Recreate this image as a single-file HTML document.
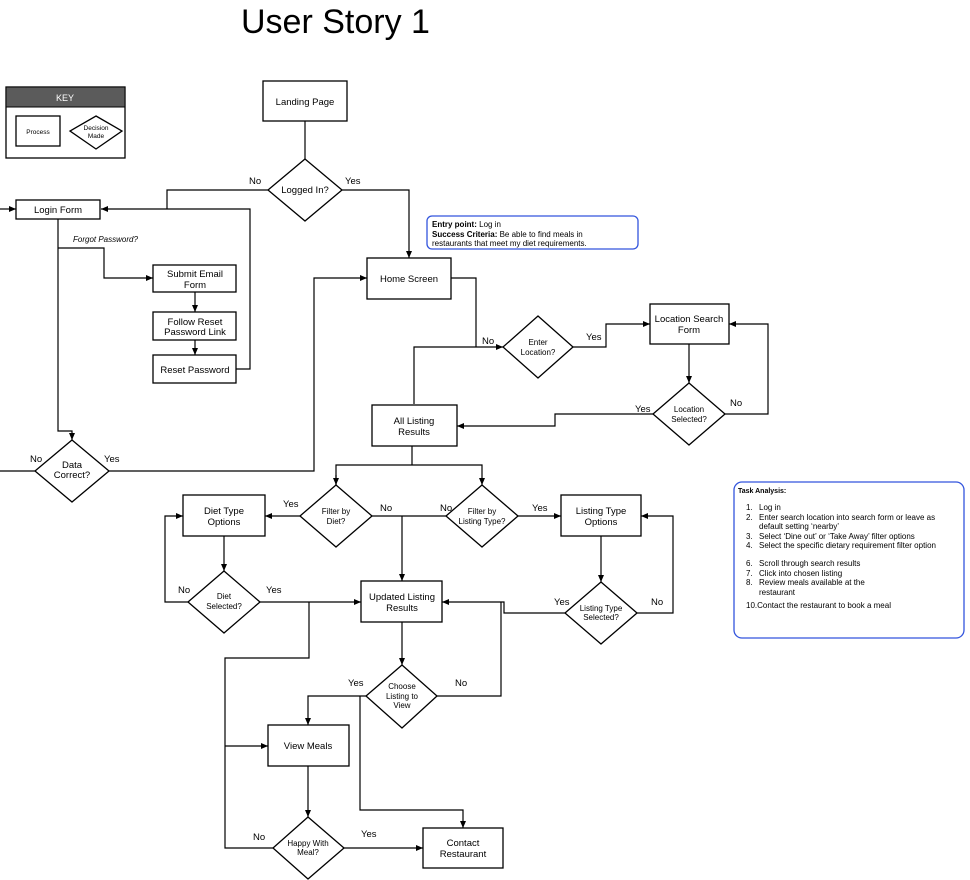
<!DOCTYPE html>
<html><head><meta charset="utf-8"><style>
body{margin:0;background:#fff;width:970px;height:880px;overflow:hidden}
svg{display:block;font-family:"Liberation Sans",sans-serif}
.b{fill:#fff;stroke:#000;stroke-width:1.3}
.l{fill:none;stroke:#000;stroke-width:1.2}
text{font-size:9.5px;fill:#000}
.s{font-size:8px}
</style></head><body>
<svg width="970" height="880" viewBox="0 0 970 880">
<defs><marker id="a" markerWidth="8" markerHeight="8" refX="7" refY="3" orient="auto" markerUnits="userSpaceOnUse"><path d="M0,0 L7,3 L0,6z" fill="#000"/></marker></defs>
<text x="241" y="33" style="font-size:34px">User Story 1</text>

<!-- KEY -->
<rect x="6" y="87" width="119" height="71" class="b"/>
<rect x="6" y="87" width="119" height="20" fill="#5b5b5b" stroke="#000"/>
<text x="65" y="101" text-anchor="middle" fill="#fff" style="fill:#fff;font-size:9px">KEY</text>
<rect x="16" y="116" width="44" height="30" class="b"/>
<text x="38" y="134" class="s" text-anchor="middle" style="font-size:6.5px">Process</text>
<path d="M96,116 L122,131 L96,149 L70,131z" class="b"/>
<text x="96" y="130" text-anchor="middle" style="font-size:6.5px">Decision</text>
<text x="96" y="138" text-anchor="middle" style="font-size:6.5px">Made</text>

<!-- connectors -->
<g class="l">
<path d="M305,121 V159"/>
<path d="M268,190 H167 V209"/>
<path d="M236,369 H250 V209 H101" marker-end="url(#a)"/>
<path d="M0,209 H16" marker-end="url(#a)"/>
<path d="M342,190 H409 V258" marker-end="url(#a)"/>
<path d="M58,219 V431 H72 V440" marker-end="url(#a)"/>
<path d="M58,248 H104 V278 H153" marker-end="url(#a)"/>
<path d="M195,292 V312" marker-end="url(#a)"/>
<path d="M195,340 V355" marker-end="url(#a)"/>
<path d="M0,471 H35"/>
<path d="M109,471 H314 V278 H367" marker-end="url(#a)"/>
<path d="M451,278 H476 V347"/>
<path d="M414,404 V347 H503" marker-end="url(#a)"/>
<path d="M573,347 H606 V324 H650" marker-end="url(#a)"/>
<path d="M689,344 V383" marker-end="url(#a)"/>
<path d="M725,414 H768 V324 H729" marker-end="url(#a)"/>
<path d="M653,414 H555 V426 H457" marker-end="url(#a)"/>
<path d="M412,446 V465"/>
<path d="M336,485 V465 H482 V485" marker-end="url(#a)"/>
<path d="M336,475 V485" marker-end="url(#a)"/>
<path d="M300,516 H265" marker-end="url(#a)"/>
<path d="M372,516 H446"/>
<path d="M402,516 V581" marker-end="url(#a)"/>
<path d="M518,516 H561" marker-end="url(#a)"/>
<path d="M601,536 V582" marker-end="url(#a)"/>
<path d="M637,613 H673 V516 H641" marker-end="url(#a)"/>
<path d="M565,613 H504 V602 H442" marker-end="url(#a)"/>
<path d="M437,696 H501 V602"/>
<path d="M224,536 V571" marker-end="url(#a)"/>
<path d="M188,602 H165 V516 H183" marker-end="url(#a)"/>
<path d="M260,602 H361" marker-end="url(#a)"/>
<path d="M309,602 V658 H225 V848 H273"/>
<path d="M225,746 H268" marker-end="url(#a)"/>
<path d="M402,622 V665" marker-end="url(#a)"/>
<path d="M366,696 H308 V725" marker-end="url(#a)"/>
<path d="M360,696 V810 H463 V828" marker-end="url(#a)"/>
<path d="M308,766 V817" marker-end="url(#a)"/>
<path d="M344,848 H423" marker-end="url(#a)"/>
</g>

<!-- process boxes -->
<g class="b">
<rect x="263" y="81" width="84" height="40"/>
<rect x="16" y="200" width="84" height="19"/>
<rect x="153" y="265" width="83" height="27"/>
<rect x="153" y="312" width="83" height="28"/>
<rect x="153" y="355" width="83" height="28"/>
<rect x="367" y="258" width="84" height="41"/>
<rect x="650" y="304" width="79" height="40"/>
<rect x="372" y="405" width="85" height="41"/>
<rect x="183" y="495" width="82" height="41"/>
<rect x="561" y="495" width="80" height="41"/>
<rect x="361" y="581" width="81" height="41"/>
<rect x="268" y="725" width="81" height="41"/>
<rect x="423" y="828" width="80" height="40"/>
</g>
<!-- diamonds -->
<g class="b">
<path d="M305,159 L342,190 L305,221 L268,190z"/>
<path d="M72,440 L109,471 L72,502 L35,471z"/>
<path d="M538,316 L573,347 L538,378 L503,347z"/>
<path d="M689,383 L725,414 L689,445 L653,414z"/>
<path d="M336,485 L372,516 L336,547 L300,516z"/>
<path d="M482,485 L518,516 L482,547 L446,516z"/>
<path d="M224,571 L260,602 L224,633 L188,602z"/>
<path d="M601,582 L637,613 L601,644 L565,613z"/>
<path d="M402,665 L437,696 L402,728 L366,696z"/>
<path d="M308,817 L344,848 L308,879 L273,848z"/>
</g>

<g text-anchor="middle">
<text x="305" y="105">Landing Page</text>
<text x="58" y="213">Login Form</text>
<text x="195" y="277">Submit Email</text><text x="195" y="288">Form</text>
<text x="195" y="325">Follow Reset</text><text x="195" y="335">Password Link</text>
<text x="195" y="373">Reset Password</text>
<text x="409" y="282">Home Screen</text>
<text x="689" y="322">Location Search</text><text x="689" y="333">Form</text>
<text x="414" y="424">All Listing</text><text x="414" y="435">Results</text>
<text x="224" y="514">Diet Type</text><text x="224" y="525">Options</text>
<text x="601" y="514">Listing Type</text><text x="601" y="525">Options</text>
<text x="402" y="600">Updated Listing</text><text x="402" y="611">Results</text>
<text x="308" y="749">View Meals</text>
<text x="463" y="846">Contact</text><text x="463" y="857">Restaurant</text>
<text x="305" y="193">Logged In?</text>
<text x="72" y="468">Data</text><text x="72" y="478">Correct?</text>
<text class="s" x="538" y="345">Enter</text><text class="s" x="538" y="355">Location?</text>
<text class="s" x="689" y="412">Location</text><text class="s" x="689" y="422">Selected?</text>
<text class="s" x="336" y="514">Filter by</text><text class="s" x="336" y="524">Diet?</text>
<text class="s" x="482" y="514">Filter by</text><text class="s" x="482" y="524">Listing Type?</text>
<text class="s" x="224" y="599">Diet</text><text class="s" x="224" y="609">Selected?</text>
<text class="s" x="601" y="611">Listing Type</text><text class="s" x="601" y="620">Selected?</text>
<text class="s" x="402" y="689">Choose</text><text class="s" x="402" y="699">Listing to</text><text class="s" x="402" y="708">View</text>
<text class="s" x="308" y="846">Happy With</text><text class="s" x="308" y="855">Meal?</text>
</g>
<g>
<text x="249" y="184">No</text><text x="345" y="184">Yes</text>
<text x="73" y="242" style="font-style:italic;font-size:8px">Forgot Password?</text>
<text x="30" y="462">No</text><text x="104" y="462">Yes</text>
<text x="482" y="344">No</text><text x="586" y="340">Yes</text>
<text x="635" y="412">Yes</text><text x="730" y="406">No</text>
<text x="283" y="507">Yes</text><text x="380" y="511">No</text>
<text x="440" y="511">No</text><text x="532" y="511">Yes</text>
<text x="178" y="593">No</text><text x="266" y="593">Yes</text>
<text x="554" y="605">Yes</text><text x="651" y="605">No</text>
<text x="348" y="686">Yes</text><text x="455" y="686">No</text>
<text x="253" y="840">No</text><text x="361" y="837">Yes</text>
</g>

<!-- info boxes -->
<rect x="427" y="216" width="211" height="33" rx="5" fill="#fff" stroke="#3355dd" stroke-width="1.3"/>
<text x="432" y="227" style="font-size:8px"><tspan font-weight="bold">Entry point:</tspan> Log in</text>
<text x="432" y="237" style="font-size:8px"><tspan font-weight="bold">Success Criteria:</tspan> Be able to find meals in</text>
<text x="432" y="246" style="font-size:8px">restaurants that meet my diet requirements.</text>

<rect x="734" y="482" width="230" height="156" rx="8" fill="#fff" stroke="#3355dd" stroke-width="1.3"/>
<g style="font-size:8px">
<text x="738" y="493" style="font-size:7px;font-weight:bold">Task Analysis:</text>
<text x="746" y="510" style="font-size:8px">1.</text><text x="759" y="510" style="font-size:8px">Log in</text>
<text x="746" y="520" style="font-size:8px">2.</text><text x="759" y="520" style="font-size:8px">Enter search location into search form or leave as</text>
<text x="759" y="529" style="font-size:8px">default setting ‘nearby’</text>
<text x="746" y="539" style="font-size:8px">3.</text><text x="759" y="539" style="font-size:8px">Select ‘Dine out’ or ‘Take Away’ filter options</text>
<text x="746" y="548" style="font-size:8px">4.</text><text x="759" y="548" style="font-size:8px">Select the specific dietary requirement filter option</text>
<text x="746" y="566" style="font-size:8px">6.</text><text x="759" y="566" style="font-size:8px">Scroll through search results</text>
<text x="746" y="576" style="font-size:8px">7.</text><text x="759" y="576" style="font-size:8px">Click into chosen listing</text>
<text x="746" y="585" style="font-size:8px">8.</text><text x="759" y="585" style="font-size:8px">Review meals available at the</text>
<text x="759" y="595" style="font-size:8px">restaurant</text>
<text x="746" y="608" style="font-size:8px">10.Contact the restaurant to book a meal</text>
</g>
</svg>
</body></html>
